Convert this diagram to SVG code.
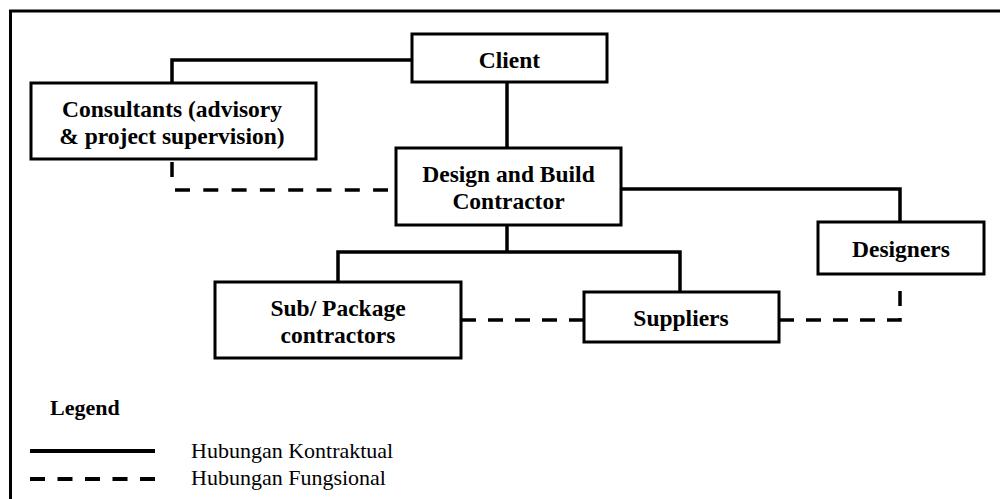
<svg xmlns="http://www.w3.org/2000/svg" width="1000" height="499" viewBox="0 0 1000 499">
<style>
.box{fill:#fff;stroke:#000;stroke-width:3}
.lbl{font-family:"Liberation Serif","Times New Roman",serif;font-weight:bold;font-size:23.5px;text-anchor:middle;fill:#000}
.solid{fill:none;stroke:#000;stroke-width:3.5}
.dash{fill:none;stroke:#000;stroke-width:3.5;stroke-dasharray:15 12}
.leg{font-family:"Liberation Serif","Times New Roman",serif;font-size:22px;fill:#000}
</style>
<rect x="0" y="0" width="1000" height="499" fill="#fff"/>
<rect x="10.5" y="11" width="1000" height="500" fill="none" stroke="#000" stroke-width="3"/>
<g id="connectors">
<path class="solid" d="M412,60 H172 V83"/>
<path class="solid" d="M507,82 V148"/>
<path class="solid" d="M621,189 H900 V222"/>
<path class="solid" d="M507,225 V252"/>
<path class="solid" d="M338,282 V252 H680 V292"/>
<path class="dash" d="M172,162 V177"/>
<path class="dash" d="M175,190 H388" style="stroke-dasharray:15 13.3"/>
<path class="dash" d="M461,320 H583"/>
<path class="dash" d="M779,320 H900 V283"/>
</g>
<g id="client">
<rect class="box" x="412" y="34" width="195" height="48"/>
<text class="lbl" x="509.5" y="68">Client</text>
</g>
<g id="consultants">
<rect class="box" x="31" y="83" width="285" height="76"/>
<text class="lbl" x="172" y="117">Consultants (advisory</text>
<text class="lbl" x="172" y="144">&amp; project supervision)</text>
</g>
<g id="design-build">
<rect class="box" x="396" y="148" width="225" height="77"/>
<text class="lbl" x="508.5" y="182">Design and Build</text>
<text class="lbl" x="508.5" y="209">Contractor</text>
</g>
<g id="designers">
<rect class="box" x="818" y="222" width="166" height="52"/>
<text class="lbl" x="901" y="257">Designers</text>
</g>
<g id="sub-contractors">
<rect class="box" x="215" y="282" width="246" height="76"/>
<text class="lbl" x="338" y="316">Sub/ Package</text>
<text class="lbl" x="338" y="343">contractors</text>
</g>
<g id="suppliers">
<rect class="box" x="584" y="292" width="195" height="50"/>
<text class="lbl" x="681" y="326">Suppliers</text>
</g>
<g id="legend">
<text x="50" y="415" font-family="Liberation Serif, Times New Roman, serif" font-weight="bold" font-size="22">Legend</text>
<line x1="30" y1="451" x2="155" y2="451" stroke="#000" stroke-width="4"/>
<line x1="30" y1="479" x2="155" y2="479" stroke="#000" stroke-width="4" stroke-dasharray="15 12.5"/>
<text class="leg" x="191" y="458">Hubungan Kontraktual</text>
<text class="leg" x="191" y="485">Hubungan Fungsional</text>
</g>
</svg>
